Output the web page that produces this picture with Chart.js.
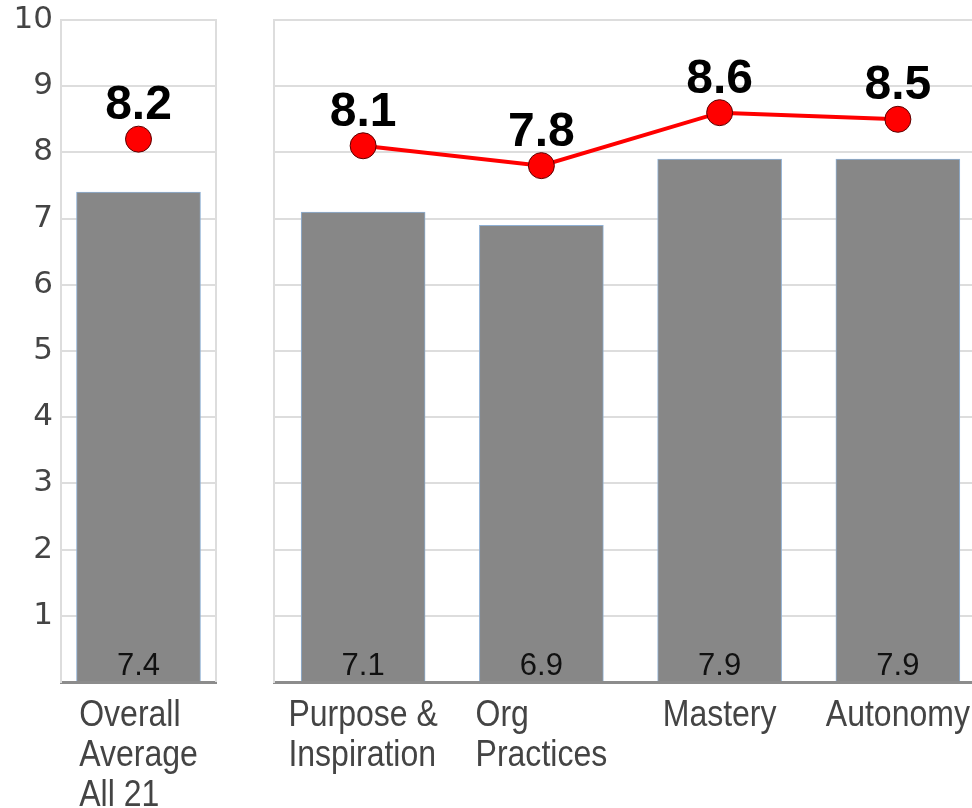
<!DOCTYPE html>
<html>
<head>
<meta charset="utf-8">
<script src="https://cdn.jsdelivr.net/npm/chart.js@4"></script>
<style>
    html, body { margin: 0; padding: 0; background: #fff; overflow: hidden; }
    body { width: 972px; height: 808px; position: relative; }
    .panel { position: absolute; top: 0; }
</style>
</head>
<body>
<div class="panel" style="left:0px"><canvas id="overall-chart" width="230" height="808"></canvas></div>
<div class="panel" style="left:272px"><canvas id="dimension-chart" width="716" height="808"></canvas></div>

<script>
// data
const overallLabels = [['Overall', 'Average', 'All 21']];
const overallBars = [7.4];
const overallPoints = [8.2];

const dimensionLabels = [['Purpose &', 'Inspiration'], ['Org', 'Practices'], 'Mastery', 'Autonomy'];
const dimensionBars = [7.1, 6.9, 7.9, 7.9];
const dimensionPoints = [8.1, 7.8, 8.6, 8.5];

const GRID = '#dddddd';
const BAR_FILL = '#878787';
const BAR_EDGE = '#8fb0d4';
const RED = '#ff0000';

// value labels: small ones inside the bars, big bold ones above the points
const valueLabels = {
    id: 'valueLabels',
    afterDatasetsDraw(chart) {
        const ctx = chart.ctx;
        ctx.save();
        ctx.textAlign = 'center';
        ctx.textBaseline = 'alphabetic';
        chart.data.datasets.forEach((ds, i) => {
            const meta = chart.getDatasetMeta(i);
            meta.data.forEach((el, j) => {
                const text = ds.data[j].toFixed(1);
                if (meta.type === 'bar') {
                    ctx.font = '31px "Liberation Sans", Arial, sans-serif';
                    ctx.fillStyle = '#111';
                    ctx.fillText(text, el.x, el.base - 6);
                } else {
                    ctx.font = 'bold 48px "Liberation Sans", Arial, sans-serif';
                    ctx.fillStyle = '#000';
                    ctx.fillText(text, el.x, el.y - 20);
                }
            });
        });
        ctx.restore();
    }
};

// category names under the axis: narrow face, lines left aligned as a block
const categoryLabels = {
    id: 'categoryLabels',
    afterDraw(chart) {
        const { ctx, chartArea } = chart;
        const xScale = chart.scales.x;
        const squeeze = 0.865;
        ctx.save();
        ctx.font = '37px "Liberation Sans", Arial, sans-serif';
        ctx.fillStyle = '#444';
        ctx.textAlign = 'left';
        ctx.textBaseline = 'alphabetic';
        chart.data.labels.forEach((label, i) => {
            const lines = Array.isArray(label) ? label : [label];
            const widest = Math.max(...lines.map(l => ctx.measureText(l).width)) * squeeze;
            const left = xScale.getPixelForValue(i) - widest / 2;
            lines.forEach((line, k) => {
                ctx.save();
                ctx.translate(left, chartArea.bottom + 44 + k * 40);
                ctx.scale(squeeze, 1);
                ctx.fillText(line, 0, 0);
                ctx.restore();
            });
        });
        ctx.restore();
    }
};

// right edge of the light grey panel frame
const panelFrame = {
    id: 'panelFrame',
    beforeDatasetsDraw(chart) {
        const { ctx, chartArea } = chart;
        ctx.save();
        ctx.strokeStyle = GRID;
        ctx.lineWidth = 2;
        ctx.beginPath();
        ctx.moveTo(chartArea.right, chartArea.top - 1);
        ctx.lineTo(chartArea.right, chartArea.bottom);
        ctx.stroke();
        ctx.restore();
    }
};

function makeDatasets(bars, points) {
    return [
        {
            type: 'line',
            data: points,
            order: 0,
            borderColor: RED,
            borderWidth: 4,
            pointRadius: 13,
            pointBackgroundColor: RED,
            pointBorderColor: '#5a0000',
            pointBorderWidth: 1,
            tension: 0
        },
        {
            type: 'bar',
            data: bars,
            order: 1,
            backgroundColor: BAR_FILL,
            borderColor: BAR_EDGE,
            borderWidth: 1,
            barThickness: 124
        }
    ];
}

function makeOptions(showYTicks, padding) {
    return {
        responsive: false,
        animation: false,
        layout: { padding: padding, autoPadding: false },
        plugins: {
            legend: { display: false },
            tooltip: { enabled: false }
        },
        scales: {
            x: {
                grid: { display: false },
                border: { display: true, color: '#8c8c8c', width: 3 },
                ticks: { display: false },
                afterFit(scale) { scale.height = 126; }
            },
            y: {
                min: 0,
                max: 10,
                grid: { color: GRID, lineWidth: 2, drawTicks: false },
                border: { display: true, color: GRID, width: 2 },
                ticks: {
                    display: showYTicks,
                    stepSize: 1,
                    padding: 8,
                    color: '#444',
                    font: { family: '"DejaVu Sans", Verdana, sans-serif', size: 31 },
                    callback: v => (v === 0 ? '' : v)
                },
                afterFit(scale) {
                    scale.width = showYTicks ? 61 : 0;
                    scale.paddingTop = 0;
                    scale.paddingBottom = 0;
                }
            }
        }
    };
}

document.addEventListener('DOMContentLoaded', function() {
    new Chart(document.getElementById('overall-chart').getContext('2d'), {
        type: 'bar',
        data: {
            labels: overallLabels,
            datasets: makeDatasets(overallBars, overallPoints)
        },
        options: makeOptions(true, { top: 20, right: 14, left: 0, bottom: 0 }),
        plugins: [panelFrame, valueLabels, categoryLabels]
    });

    new Chart(document.getElementById('dimension-chart').getContext('2d'), {
        type: 'bar',
        data: {
            labels: dimensionLabels,
            datasets: makeDatasets(dimensionBars, dimensionPoints)
        },
        options: makeOptions(false, { top: 20, right: 1, left: 2, bottom: 0 }),
        plugins: [panelFrame, valueLabels, categoryLabels]
    });
});
</script>
</body>
</html>
